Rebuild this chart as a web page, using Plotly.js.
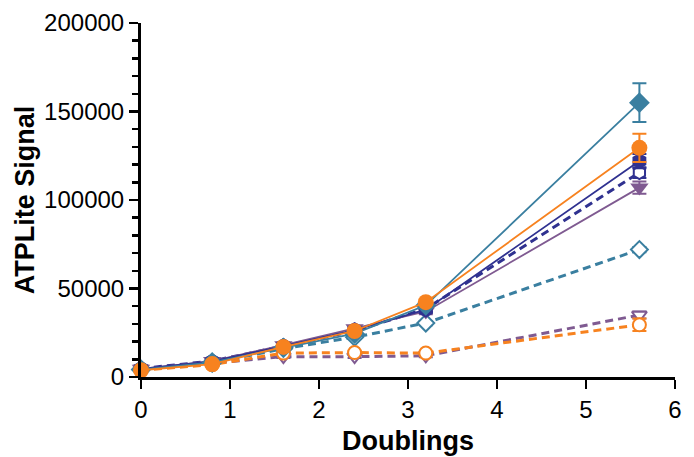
<!DOCTYPE html>
<html>
<head>
<meta charset="utf-8">
<script src="https://cdn.plot.ly/plotly-3.0.1.min.js"></script>
<style>html,body{margin:0;padding:0;background:#fff;}#chart{width:694px;height:457px;}</style>
</head>
<body>
<div id="chart"></div>
<script>
const doublings = [0, 0.8, 1.6, 2.4, 3.2, 5.6];

const tealSolid    = [4200, 8200, 16500, 24500, 40500, 155000];
const tealSolidErr = [500, 600, 800, 1000, 1500, 11000];
const orangeSolid    = [3800, 7300, 17000, 26000, 42300, 129500];
const orangeSolidErr = [500, 600, 900, 1000, 1500, 8000];
const navySolid    = [4600, 8800, 17500, 26500, 38000, 122000];
const navySolidErr = [500, 600, 900, 1000, 1500, 4000];
const navyDashed    = [4800, 9000, 17500, 26000, 38500, 115500];
const navyDashedErr = [500, 600, 900, 1000, 1500, 3000];
const purpleSolid    = [4600, 9000, 18000, 27500, 37000, 107000];
const purpleSolidErr = [500, 600, 900, 1000, 1500, 3500];
const tealDashed    = [4200, 8000, 16000, 22500, 30500, 72000];
const tealDashedErr = [400, 500, 700, 900, 1200, 1500];
const purpleDashed    = [4600, 7800, 11500, 11500, 12000, 35000];
const purpleDashedErr = [400, 500, 700, 800, 900, 2000];
const orangeDashed    = [3800, 7000, 13500, 13800, 13500, 29500];
const orangeDashedErr = [400, 500, 700, 800, 900, 3500];

const TEAL = '#3a7fa0', ORANGE = '#f7821f', NAVY = '#2f3190', PURPLE = '#7f5a91';

function tr(y, err, color, dashed, symbol, filled) {
  return {
    x: doublings, y: y, type: 'scatter', mode: 'lines+markers',
    line: {color: color, width: dashed ? 3 : 1.8, dash: dashed ? '8px,5px' : 'solid'},
    marker: {symbol: symbol, size: filled ? 16 : 13, color: filled ? color : 'white',
             line: {color: color, width: filled ? 0 : 2}},
    error_y: {type: 'data', array: err, visible: true, color: color, thickness: 2, width: 7},
    cliponaxis: false, showlegend: false
  };
}

const data = [
  tr(tealDashed, tealDashedErr, TEAL, true, 'diamond', false),
  tr(purpleDashed, purpleDashedErr, PURPLE, true, 'triangle-down', false),
  tr(orangeDashed, orangeDashedErr, ORANGE, true, 'circle', false),
  tr(navyDashed, navyDashedErr, NAVY, true, 'hexagon', false),
  tr(purpleSolid, purpleSolidErr, PURPLE, false, 'triangle-down', true),
  tr(navySolid, navySolidErr, NAVY, false, 'hexagon', true),
  tr(tealSolid, tealSolidErr, TEAL, false, 'diamond', true),
  tr(orangeSolid, orangeSolidErr, ORANGE, false, 'circle', true)
];

const layout = {
  width: 694, height: 457,
  margin: {l: 141, r: 19, t: 23, b: 80},
  paper_bgcolor: '#fff', plot_bgcolor: '#fff',
  font: {family: 'Liberation Sans, Arial, sans-serif', color: '#000', size: 24},
  xaxis: {
    range: [0, 6], tickvals: [0,1,2,3,4,5,6], ticktext: ['0','1','2','3','4','5','6'],
    showgrid: false, zeroline: false, showline: true, linecolor: '#000', linewidth: 3,
    ticks: 'outside', ticklen: 9, tickwidth: 2.5, tickcolor: '#000',
    tickfont: {size: 24},
    title: {text: '<b>Doublings</b>', font: {size: 27}, standoff: 10}
  },
  yaxis: {
    range: [0, 200000], tickvals: [0, 50000, 100000, 150000, 200000],
    ticktext: ['0','50000','100000','150000','200000'],
    showgrid: false, zeroline: false, showline: true, linecolor: '#000', linewidth: 3,
    ticks: 'outside', ticklen: 9, tickwidth: 2.5, tickcolor: '#000',
    tickfont: {size: 24},
    minor: {dtick: 10000, tick0: 0, ticks: 'outside', ticklen: 6, tickwidth: 2.5, tickcolor: '#000', showgrid: false},
    title: {text: '<b>ATPLite Signal</b>', font: {size: 27}, standoff: 2}
  }
};

Plotly.newPlot('chart', data, layout, {displayModeBar: false, staticPlot: true});
</script>
</body>
</html>
